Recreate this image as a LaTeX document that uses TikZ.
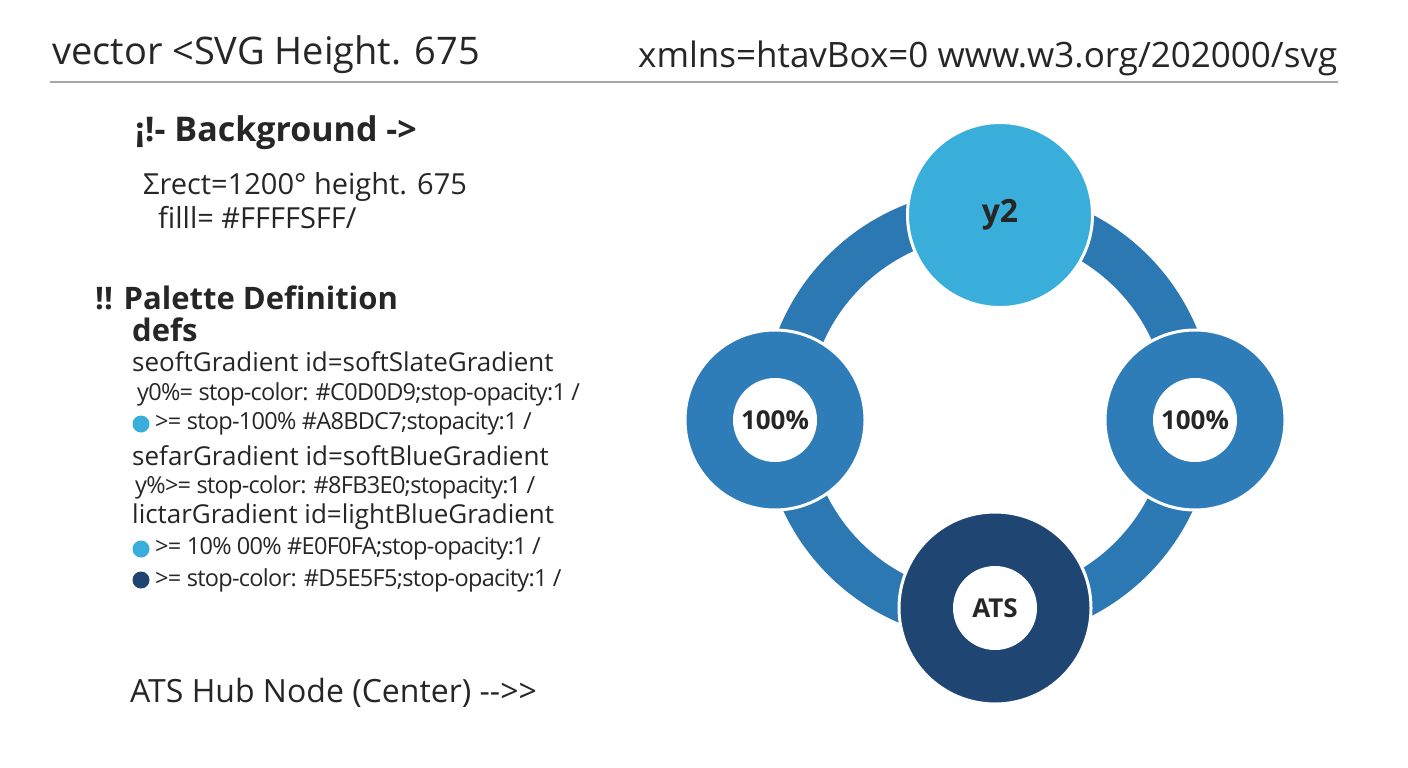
\documentclass[tikz,border=0pt]{standalone}
\usepackage{fontspec}
\setmainfont{Open Sans}
\begin{document}
\begin{tikzpicture}[x=1pt,y=-1pt,
  t/.style={anchor=west,inner sep=0pt,text=black!85},
  big/.style={t,font=\fontsize{38}{38}\selectfont},
  hb/.style={t,font=\fontsize{30}{30}\selectfont\bfseries},
  mid/.style={t,font=\fontsize{26}{26}\selectfont},
  sm/.style={t,font=\fontsize{23.5}{23.5}\selectfont\addfontfeature{LetterSpace=-3}},
  dot/.style={circle,inner sep=0pt,minimum size=17pt},
  ring/.style={circle,inner sep=0pt,minimum size=180pt,draw=white,line width=3pt},
  lab/.style={font=\fontsize{26}{26}\selectfont\bfseries,text=black!85}]
\definecolor{lb}{HTML}{3AAEDB}\definecolor{mb}{HTML}{2E7DB8}
\definecolor{db}{HTML}{1F4673}\definecolor{band}{HTML}{2B78B3}
\useasboundingbox (0,0) rectangle (1408,768);
\fill[white] (0,0) rectangle (1408,768);
\node[big] (h1) at (52,55) {vector <SVG Height. 675};
\node[big,font=\fontsize{35}{35}\selectfont] (h2) at (638,58) {xmlns=htavBox=0 www.w3.org/202000/svg};
\coordinate (l1) at (50,82); \coordinate (l2) at (1338,82);
\draw[black!35,line width=2pt] (l1) -- (l2);
\node[hb,font=\fontsize{34}{34}\selectfont\bfseries] (bg) at (135,133) {¡!- Background ->};
\node[mid,font=\fontsize{29}{29}\selectfont] (r1) at (143,187) {Σrect=1200° height. 675};
\node[mid,font=\fontsize{29}{29}\selectfont] (r2) at (158,218) {filll= \#FFFFSFF/};
\node[hb,font=\fontsize{31}{31}\selectfont\bfseries] (pd) at (95,298) {!! Palette Definition};
\node[hb,font=\fontsize{31}{31}\selectfont\bfseries] (df) at (132,330) {defs};
\node[mid] (g1) at (132,362) {seoftGradient id=softSlateGradient};
\node[sm] (s1) at (137,394) {y0\%= stop-color: \#C0D0D9;stop-opacity:1 /};
\node[dot,fill=lb] (d1) at (141,424) {};
\node[sm] (s2) at (155,424) {>= stop-100\% \#A8BDC7;stopacity:1 /};
\node[mid] (g2) at (132,456) {sefarGradient id=softBlueGradient};
\node[sm] (s3) at (135,487) {y\%>= stop-color: \#8FB3E0;stopacity:1 /};
\node[mid] (g3) at (132,517) {lictarGradient id=lightBlueGradient};
\node[dot,fill=lb] (d2) at (141,549) {};
\node[sm] (s4) at (155,549) {>= 10\% 00\% \#E0F0FA;stop-opacity:1 /};
\node[dot,fill=db] (d3) at (141,580) {};
\node[sm] (s5) at (155,580) {>= stop-color: \#D5E5F5;stop-opacity:1 /};
\node[t,font=\fontsize{32}{32}\selectfont] (hub) at (130,693) {ATS Hub Node (Center) -{}-{}>{}>};
% ring
\coordinate (c) at (988,415);
\draw[band,line width=46pt] (c) circle[radius=203];
\node[ring,fill=mb] (L) at (775,420) {};
\node[circle,fill=white,minimum size=84pt,inner sep=0pt,lab] at (L) {100\%};
\node[ring,fill=mb] (R) at (1195,420) {};
\node[circle,fill=white,minimum size=84pt,inner sep=0pt,lab] at (R) {100\%};
\node[ring,fill=lb,minimum size=185pt] (T) at (1000,215) {};
\node[lab,font=\fontsize{32}{32}\selectfont\bfseries] at (T) {y2};
\node[ring,fill=db,minimum size=192pt] (B) at (995,608) {};
\node[circle,fill=white,minimum size=84pt,inner sep=0pt,lab] at (B) {ATS};
\end{tikzpicture}
\end{document}
